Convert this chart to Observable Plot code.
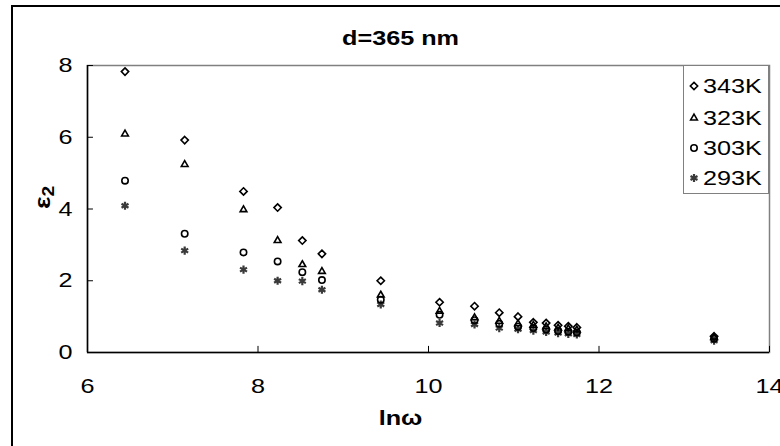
<!DOCTYPE html>
<html>
<head>
<meta charset="utf-8">
<script src="https://cdn.jsdelivr.net/npm/d3@7"></script>
<script src="https://cdn.jsdelivr.net/npm/@observablehq/plot@0.6"></script>
<style>
  html, body { margin: 0; padding: 0; background: #fff; }
  #wrap { position: relative; width: 780px; height: 446px; overflow: hidden; background: #fff;
          font-family: "Liberation Sans", Arial, sans-serif; }
  #outer { position: absolute; left: 11px; top: 5px; width: 900px; height: 600px;
           border-left: 2px solid #000; border-top: 2px solid #000; }
  #legend { position: absolute; left: 683px; top: 65px; width: 84px; height: 127px;
            border: 1px solid #808080; background: #fff; }
  .row { position: absolute; left: 0; display: flex; align-items: center; height: 22px; }
  .row span { font-size: 21px; color: #000; margin-left: 3px; display: inline-block;
              transform: scaleX(1.2); transform-origin: left center; }
</style>
</head>
<body>
<div id="wrap"><div id="outer"></div></div>
<script>
const title = "d=365 nm";
const xLabel = "lnω";
const yLabel = "ε₂";
const xTicks = [6, 8, 10, 12, 14];
const yTicks = [0, 2, 4, 6, 8];
const temps = ["343K", "323K", "303K", "293K"];
const symbols = ["diamond2", "triangle2", "circle", "asterisk"];
const colors = ["#000", "#000", "#000", "#3a3a3a"];
const radii = [3.3, 3.2, 3.2, 3.8];
const widths = [1.6, 1.6, 1.6, 2.2];

const lnw  = [6.44, 7.14, 7.83, 8.23, 8.52, 8.75, 9.44, 10.13, 10.54, 10.83, 11.05, 11.23, 11.38, 11.52, 11.64, 11.74, 13.35];
const e343 = [7.83, 5.92, 4.49, 4.04, 3.12, 2.75, 2.00, 1.40, 1.29, 1.11, 1.00, 0.84, 0.82, 0.76, 0.73, 0.70, 0.45];
const e323 = [6.09, 5.24, 3.98, 3.12, 2.45, 2.26, 1.60, 1.15, 0.97, 0.87, 0.80, 0.76, 0.72, 0.68, 0.66, 0.63, 0.42];
const e303 = [4.79, 3.31, 2.79, 2.54, 2.24, 2.02, 1.47, 1.05, 0.90, 0.80, 0.72, 0.68, 0.64, 0.60, 0.58, 0.56, 0.38];
const e293 = [4.09, 2.84, 2.31, 2.00, 1.99, 1.75, 1.34, 0.82, 0.78, 0.68, 0.65, 0.61, 0.57, 0.54, 0.52, 0.50, 0.33];
const series = [e343, e323, e303, e293];

const dotMarks = series.map((vals, k) =>
  Plot.dot(lnw, {x: d => d, y: (d, i) => vals[i], symbol: symbols[k], r: radii[k],
                 stroke: colors[k], strokeWidth: widths[k], fill: "none"})
).reverse();

const chart = Plot.plot({
  width: 780, height: 446,
  marginLeft: 87, marginRight: 11, marginTop: 65, marginBottom: 94,
  x: {domain: [6, 14]},
  y: {domain: [0, 8]},
  style: {fontFamily: "'Liberation Sans', Arial, sans-serif", fontSize: "21px", background: "transparent", color: "#000"},
  marks: [
    Plot.frame({stroke: "#808080", strokeWidth: 1.5}),
    Plot.ruleY([0], {stroke: "#000", strokeWidth: 1.5}),
    Plot.ruleX([6], {stroke: "#000", strokeWidth: 1.5}),
    Plot.ruleX(xTicks, {y1: 0, y2: 0.17, stroke: "#000", strokeWidth: 1}),
    Plot.ruleY(yTicks, {x1: 6, x2: 6.07, stroke: "#000", strokeWidth: 1}),
    Plot.axisX({ticks: xTicks, tickSize: 0, tickPadding: 26, label: null, fontSize: 21}),
    Plot.axisY({ticks: yTicks, tickSize: 0, tickPadding: 15, label: null, fontSize: 21}),
    ...dotMarks,
    Plot.text([title], {frameAnchor: "top", dx: -28, dy: -27, fontWeight: "bold", fontSize: 21, lineAnchor: "middle"}),
    Plot.text([xLabel], {frameAnchor: "bottom", dx: -28, dy: 66, fontWeight: "bold", fontSize: 21, lineAnchor: "middle"}),
    Plot.text([yLabel], {frameAnchor: "left", dx: -45, dy: 0, rotate: -90, fontWeight: "bold", fontSize: 22, lineAnchor: "middle"})
  ]
});
chart.style.position = "absolute";
chart.style.left = "0px";
chart.style.top = "0px";
const wrap = document.getElementById("wrap");
wrap.appendChild(chart);

// subscript for the y label, and the wide lettering of the original
d3.select(chart).selectAll("text").each(function() {
  const t = d3.select(this);
  if (this.textContent === yLabel) {
    t.text(null);
    t.append("tspan").text("ε");
    t.append("tspan").attr("dy", "0.3em").attr("font-size", "16px").text("2");
  }
  const x = +(this.getAttribute("x") || 0);
  const tr = this.getAttribute("transform") || "";
  this.setAttribute("transform", `${tr} translate(${x},0) scale(1.2,1) translate(${-x},0)`);
});

// legend
const legend = document.createElement("div");
legend.id = "legend";
const rowTops = [9, 41, 71, 101];
const symMap = {diamond2: d3.symbolDiamond2, triangle2: d3.symbolTriangle2, circle: d3.symbolCircle, asterisk: d3.symbolAsterisk};
temps.forEach((t, k) => {
  const row = document.createElement("div");
  row.className = "row";
  row.style.top = rowTops[k] + "px";
  const svg = d3.create("svg").attr("width", 12).attr("height", 12).style("margin-left", "4px");
  svg.append("path")
    .attr("transform", "translate(6,6)")
    .attr("d", d3.symbol(symMap[symbols[k]], radii[k] * radii[k] * Math.PI)())
    .attr("fill", "none").attr("stroke", colors[k]).attr("stroke-width", widths[k]);
  row.appendChild(svg.node());
  const span = document.createElement("span");
  span.textContent = t;
  row.appendChild(span);
  legend.appendChild(row);
});
wrap.appendChild(legend);
</script>
</body>
</html>
